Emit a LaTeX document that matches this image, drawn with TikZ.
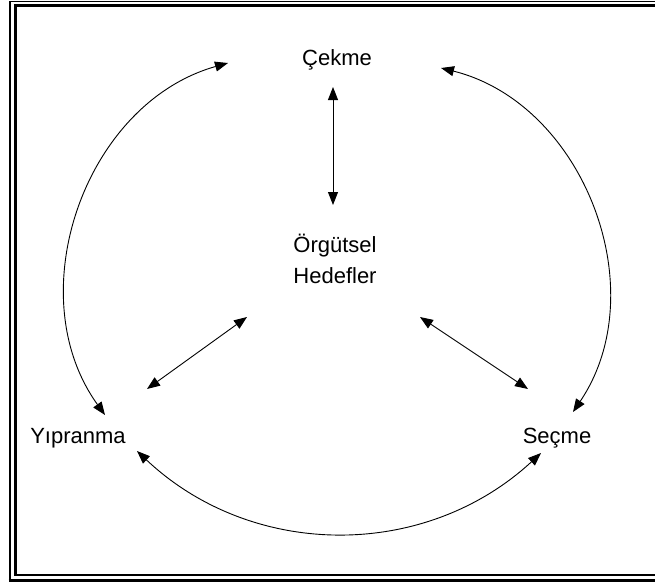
\documentclass[tikz,border=0pt]{standalone}
\usepackage{fontspec}
\setmainfont{Liberation Sans}
\usetikzlibrary{arrows.meta,calc}

\begin{document}
\begin{tikzpicture}[x=1pt,y=-1pt,
	every path/.style={line width=0.9pt},
	lbl/.style={inner sep=0, font=\fontsize{22}{31}\selectfont},
	tip/.style={{Triangle[length=13pt,width=10pt]}-{Triangle[length=13pt,width=10pt]}},
	thinrule/.style={line width=1.3pt},
	thickrule/.style={line width=2.8pt}]
	\useasboundingbox (0,0) rectangle (655,584);
	\draw[thinrule] (660,1.5) -| (10,581);
	\draw[thickrule] (8.7,580.8) -- (660,580.8);
	\draw[thickrule] (660,5.5) -| (15.5,575.5);
	\draw[thinrule] (14.1,575) -- (660,575);
	\node[lbl, anchor=base] (cekme) at (337,65) {Çekme};
	\node[lbl, align=center] (hedef) at (335,259) {Örgütsel\\Hedefler};
	\node[lbl, anchor=base] (yipranma) at (78,443) {Yıpranma};
	\node[lbl, anchor=base] (secme) at (557,443) {Seçme};
	\draw[tip] ($(cekme.base)+(-4,22)$) -- ($(hedef.center)+(-2,-54)$);
	\draw[tip] ($(hedef.center)+(-88,58)$) -- ($(yipranma.base)+(69,-54)$);
	\draw[tip] ($(hedef.center)+(85,58)$) -- ($(secme.base)+(-29,-54)$);
	\draw[tip] ($(cekme.base)+(-109,-2)$) to[bend right=55, looseness=1.02] ($(yipranma.base)+(27,-28)$);
	\draw[tip] ($(cekme.base)+(104,3)$) to[bend left=55, looseness=1.02] ($(secme.base)+(16,-31)$);
	\draw[tip] ($(yipranma.base)+(59,8)$) to[bend right=43] ($(secme.base)+(-16,10)$);
\end{tikzpicture}
\end{document}
